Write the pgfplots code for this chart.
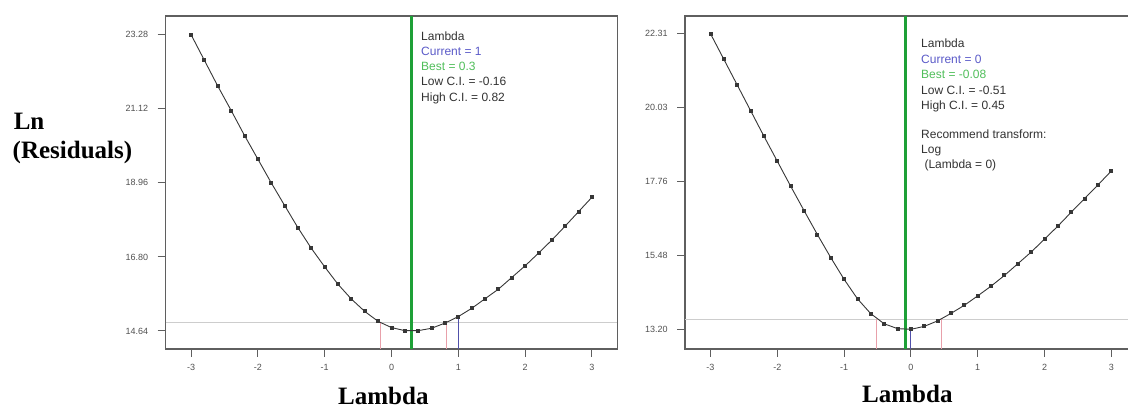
\documentclass[border=0pt]{standalone}
\usepackage{fontspec}
\setmainfont{Liberation Sans}
\newfontfamily\tnr{Liberation Serif}
\usepackage{pgfplots}
\pgfplotsset{compat=1.18}
\definecolor{framec}{RGB}{95,95,95}
\definecolor{tickc}{RGB}{80,80,80}
\definecolor{curvec}{RGB}{55,55,55}
\definecolor{bestline}{RGB}{30,160,55}
\definecolor{bluel}{RGB}{80,80,170}
\definecolor{redl}{RGB}{232,160,170}
\definecolor{grayl}{RGB}{205,205,205}
\definecolor{curtxt}{RGB}{90,90,200}
\definecolor{besttxt}{RGB}{80,190,90}
\definecolor{txt}{RGB}{50,50,50}
\newcommand\annot{\fontsize{12}{14}\selectfont}
\newcommand\biglab{\tnr\bfseries\fontsize{25}{28}\selectfont}
\pgfplotsset{bc/.style={
  scale only axis, width=451.6pt, height=333pt,
  xmin=-3.38, xmax=3.38, anchor=south west,
  axis line style={draw=framec, line width=1.3pt},
  tick align=outside, major tick length=8pt,
  xtick pos=bottom, ytick pos=left,
  tick style={draw=framec, line width=1pt},
  xtick={-3,-2,-1,0,1,2,3}, xticklabels={-3,-2,-1,0,1,2,3},
  ticklabel style={font=\fontsize{9}{10}\selectfont, text=tickc},
  xticklabel style={yshift=-4pt}, yticklabel style={xshift=-6pt},
  /pgf/number format/assume math mode=true,
  curve/.style={curvec, line width=0.9pt, mark=square*, mark size=1.5pt, mark options={fill=curvec}},
}}
\begin{document}
\begin{tikzpicture}
% Left panel
\begin{axis}[bc, at={(165.7pt,60pt)}, ymin=14.115, ymax=23.825,
  ytick={14.64,16.80,18.96,21.12,23.28}, yticklabels={14.64,16.80,18.96,21.12,23.28}]
\addplot[draw=grayl, line width=1pt] coordinates {(-3.38,14.88) (3.38,14.88)};
\addplot[draw=redl, line width=0.8pt] coordinates {(-0.16,14.115) (-0.16,14.88)};
\addplot[draw=redl, line width=0.8pt] coordinates {(0.82,14.115) (0.82,14.88)};
\addplot[draw=bluel, line width=0.9pt] coordinates {(1,14.115) (1,15.06)};
\addplot[draw=bestline, line width=2.2pt] coordinates {(0.3,14.115) (0.3,23.825)};
\addplot[curve] coordinates {
(-3,23.28)(-2.8,22.53)(-2.6,21.78)(-2.4,21.07)(-2.2,20.34)(-2.0,19.65)(-1.8,18.96)(-1.6,18.30)
(-1.4,17.65)(-1.2,17.05)(-1.0,16.51)(-0.8,16.00)(-0.6,15.57)(-0.4,15.21)(-0.2,14.92)(0,14.74)
(0.2,14.65)(0.4,14.65)(0.6,14.72)(0.8,14.87)(1.0,15.06)(1.2,15.30)(1.4,15.58)(1.6,15.86)
(1.8,16.20)(2.0,16.54)(2.2,16.91)(2.4,17.29)(2.6,17.70)(2.8,18.12)(3.0,18.54)};
\end{axis}
% Right panel
\begin{axis}[bc, at={(685.1pt,60pt)}, ymin=12.593, ymax=22.855,
  ytick={13.20,15.48,17.76,20.03,22.31}, yticklabels={13.20,15.48,17.76,20.03,22.31}]
\addplot[draw=grayl, line width=1pt] coordinates {(-3.38,13.51) (3.38,13.51)};
\addplot[draw=redl, line width=0.8pt] coordinates {(-0.51,12.593) (-0.51,13.51)};
\addplot[draw=redl, line width=0.8pt] coordinates {(0.45,12.593) (0.45,13.51)};
\addplot[draw=bluel, line width=0.9pt] coordinates {(0,12.593) (0,13.20)};
\addplot[draw=bestline, line width=2.2pt] coordinates {(-0.08,12.593) (-0.08,22.855)};
\addplot[curve] coordinates {
(-3,22.31)(-2.8,21.52)(-2.6,20.73)(-2.4,19.94)(-2.2,19.15)(-2.0,18.38)(-1.8,17.61)(-1.6,16.86)
(-1.4,16.12)(-1.2,15.41)(-1.0,14.74)(-0.8,14.14)(-0.6,13.68)(-0.4,13.37)(-0.2,13.22)(0,13.20)
(0.2,13.29)(0.4,13.46)(0.6,13.69)(0.8,13.94)(1.0,14.23)(1.2,14.53)(1.4,14.86)(1.6,15.22)
(1.8,15.58)(2.0,15.98)(2.2,16.38)(2.4,16.81)(2.6,17.23)(2.8,17.65)(3.0,18.08)};
\end{axis}
\begin{scope}[x=1pt,y=1pt]
% annotations left
\node[anchor=base west, font=\annot, text=txt, inner sep=0] at (421,368.7) {Lambda};
\node[anchor=base west, font=\annot, text=curtxt, inner sep=0] at (421,353.5) {Current = 1};
\node[anchor=base west, font=\annot, text=besttxt, inner sep=0] at (421,338.3) {Best = 0.3};
\node[anchor=base west, font=\annot, text=txt, inner sep=0] at (421,323) {Low C.I. = -0.16};
\node[anchor=base west, font=\annot, text=txt, inner sep=0] at (421,307.5) {High C.I. = 0.82};
% annotations right
\node[anchor=base west, font=\annot, text=txt, inner sep=0] at (921,361) {Lambda};
\node[anchor=base west, font=\annot, text=curtxt, inner sep=0] at (921,345.5) {Current = 0};
\node[anchor=base west, font=\annot, text=besttxt, inner sep=0] at (921,330) {Best = -0.08};
\node[anchor=base west, font=\annot, text=txt, inner sep=0] at (921,314.5) {Low C.I. = -0.51};
\node[anchor=base west, font=\annot, text=txt, inner sep=0] at (921,299) {High C.I. = 0.45};
\node[anchor=base west, font=\annot, text=txt, inner sep=0] at (921,270) {Recommend transform:};
\node[anchor=base west, font=\annot, text=txt, inner sep=0] at (921,255) {Log};
\node[anchor=base west, font=\annot, text=txt, inner sep=0] at (921,240.5) {\ (Lambda = 0)};
% big labels
\node[anchor=base west, font=\biglab, inner sep=0] at (13.6,279.7) {Ln};
\node[anchor=base west, font=\biglab, inner sep=0] at (12.5,250) {(Residuals)};
\node[anchor=base west, font=\biglab, inner sep=0] at (338,4) {Lambda};
\node[anchor=base west, font=\biglab, inner sep=0] at (862,6) {Lambda};
\pgfresetboundingbox
\useasboundingbox (0,0) rectangle (1128,409);
\end{scope}
\end{tikzpicture}
\end{document}
